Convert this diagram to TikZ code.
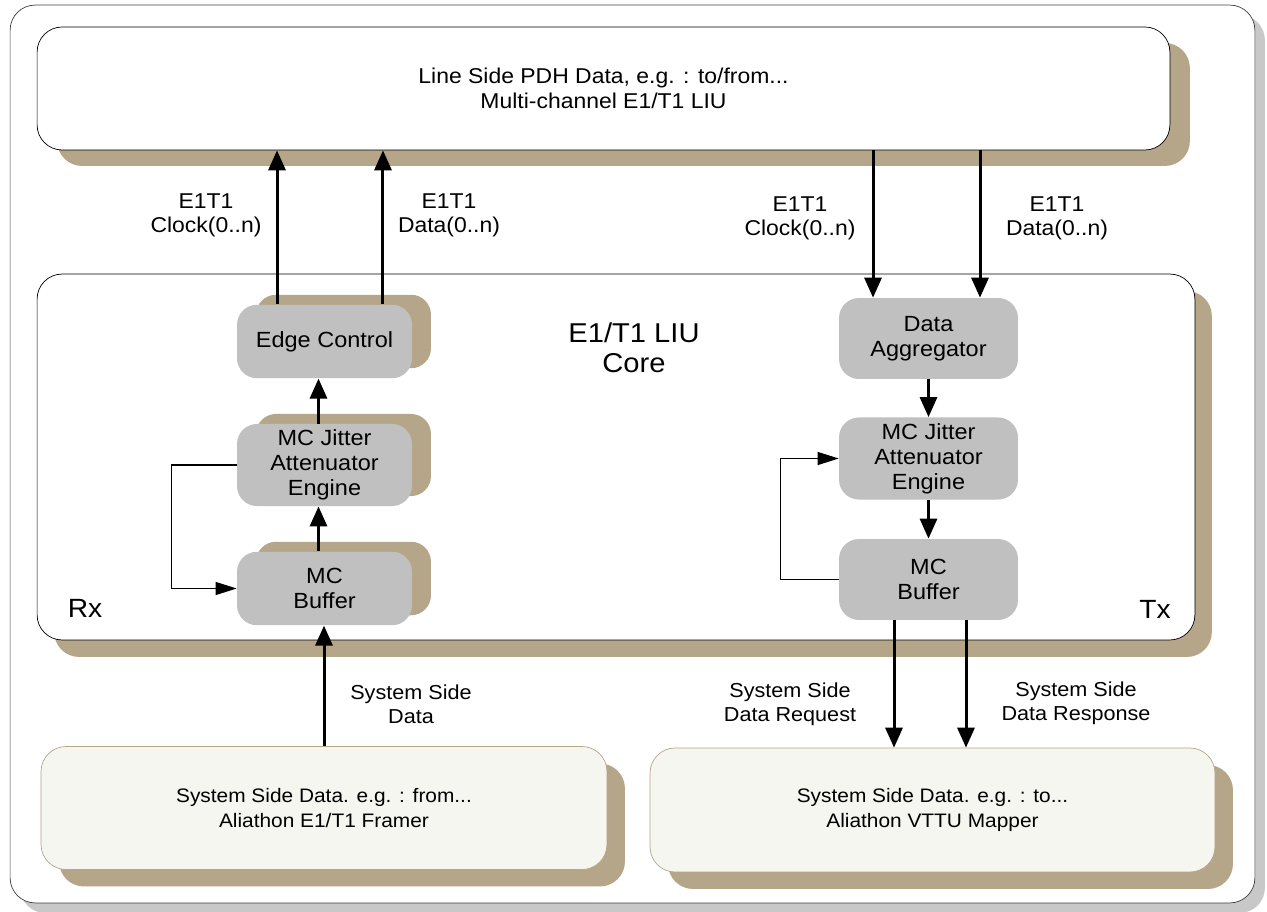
\documentclass[tikz,border=0pt]{standalone}
\usepackage{fontspec}
\setmainfont{Liberation Sans}[FakeStretch=1.07]
\usetikzlibrary{arrows.meta,shadows}

\definecolor{shadowtan}{RGB}{181,166,138}
\definecolor{blockgray}{RGB}{192,192,192}
\definecolor{paper}{RGB}{246,246,240}
\definecolor{framegray}{RGB}{200,200,200}

\tikzset{
	panel/.style = {draw, rounded corners=0.5cm, fill=white, align=center},
	sysbox/.style = {draw=shadowtan, rounded corners=0.5cm, fill=paper, align=center,
		minimum height=2.46cm, font=\fontsize{11.1}{13.8}\selectfont,
		general shadow={fill=shadowtan, draw=none, shadow xshift=0.36cm, shadow yshift=-0.34cm}},
	blk/.style = {rounded corners=0.4cm, fill=blockgray, align=center, font=\fontsize{12.5}{14.2}\selectfont},
	blkL/.style = {blk, minimum width=3.5cm, minimum height=1.47cm,
		general shadow={fill=shadowtan, draw=none, shadow xshift=0.38cm, shadow yshift=0.2cm}},
	blkR/.style = {blk, minimum width=3.58cm, minimum height=1.62cm},
	bigarrow/.style = {line width=0.06cm, -{Triangle[length=0.4cm,width=0.34cm]}},
	loopline/.style = {line width=0.6pt, -{Triangle[length=0.42cm,width=0.26cm]}},
	lbl/.style = {align=center, font=\fontsize{12.2}{13.6}\selectfont},
	syslbl/.style = {align=center, font=\fontsize{11.5}{13.6}\selectfont}
}

\begin{document}
\begin{tikzpicture}[x=0.02cm, y=-0.02cm, font=\fontsize{11}{14}\selectfont]
	\useasboundingbox (0,0) rectangle (1267,912);
	
	% outer frame
	\node[draw=black!75, rounded corners=0.5cm, fill=white, minimum width=24.9cm, minimum height=17.96cm,
		general shadow={fill=framegray, draw=none, shadow xshift=0.2cm, shadow yshift=-0.2cm}] (frame) at (632.5,454) {};
	
	% line side
	\node[panel, minimum width=22.66cm, minimum height=2.46cm, font=\fontsize{12.2}{14.2}\selectfont,
		general shadow={fill=shadowtan, draw=none, shadow xshift=0.4cm, shadow yshift=-0.32cm}] (line) at (603.5,88.5)
		{Line Side PDH Data, e.g. : to/from...\\Multi-channel E1/T1 LIU};
	
	% core
	\node[panel, minimum width=23.16cm, minimum height=7.32cm,
		general shadow={fill=shadowtan, draw=none, shadow xshift=0.34cm, shadow yshift=-0.34cm}] (core) at (616,457) {};
	\node[align=center, font=\fontsize{15.5}{17}\selectfont] (corelbl) at (634,348) {E1/T1 LIU\\Core};
	\node[font=\fontsize{15}{17}\selectfont] (rx) at (85,608) {Rx};
	\node[font=\fontsize{15}{17}\selectfont] (tx) at (1155,609) {Tx};
	
	% Rx chain
	\node[blkL] (edgeL) at (324.5,341.5) {Edge Control};
	\node[blkL] (jitL) at (324.5,465) {MC Jitter\\Attenuator\\Engine};
	\node[blkL] (bufL) at (324.5,588.5) {MC\\Buffer};
	
	% Tx chain
	\node[blkR] (agg) at (928.5,338.5) {Data\\Aggregator};
	\node[blkR] (jitR) at (928.5,458.5) {MC Jitter\\Attenuator\\Engine};
	\node[blkR] (bufR) at (928.5,579.5) {MC\\Buffer};
	
	% system side
	\node[sysbox, minimum width=11.32cm] (framer) at (324,808)
		{System Side Data. e.g. : from...\\Aliathon E1/T1 Framer};
	\node[sysbox, minimum width=11.3cm, minimum height=2.48cm] (mapper) at (932.5,810)
		{System Side Data. e.g. : to...\\Aliathon VTTU Mapper};
	
	% Rx connectors
	\draw[bigarrow] ([xshift=-0.95cm]edgeL.north) -- ([xshift=-0.95cm]edgeL.north |- line.south);
	\draw[bigarrow] ([xshift=1.17cm]edgeL.north) -- ([xshift=1.17cm]edgeL.north |- line.south);
	\draw[bigarrow] ([xshift=-0.12cm]jitL.north) -- ([xshift=-0.12cm]edgeL.south);
	\draw[bigarrow] ([xshift=-0.12cm]bufL.north) -- ([xshift=-0.12cm]jitL.south);
	\draw[bigarrow] (framer.north) -- (framer.north |- bufL.south);
	\draw[loopline] (jitL.west) -- ++(-1.3cm,0) |- (bufL.west);
	
	% Tx connectors
	\draw[bigarrow] ([xshift=-1.11cm]agg.north |- line.south) -- ([xshift=-1.11cm]agg.north);
	\draw[bigarrow] ([xshift=1.03cm]agg.north |- line.south) -- ([xshift=1.03cm]agg.north);
	\draw[bigarrow] (agg.south) -- (jitR.north);
	\draw[bigarrow] (jitR.south) -- (bufR.north);
	\draw[bigarrow] ([xshift=-0.69cm]bufR.south) -- ([xshift=-0.69cm]bufR.south |- mapper.north);
	\draw[bigarrow] ([xshift=0.75cm]bufR.south) -- ([xshift=0.75cm]bufR.south |- mapper.north);
	\draw[loopline] (bufR.west) -- ++(-1.16cm,0) |- (jitR.west);
	
	% labels
	\node[lbl] (clkL) at (206,215) {E1T1\\Clock(0..n)};
	\node[lbl] (datL) at (449,215) {E1T1\\Data(0..n)};
	\node[lbl] (clkR) at (800,218) {E1T1\\Clock(0..n)};
	\node[lbl] (datR) at (1057,218) {E1T1\\Data(0..n)};
	\node[syslbl] (sysdat) at (411,704) {System Side\\Data};
	\node[syslbl] (sysreq) at (790,704) {System Side\\Data Request};
	\node[syslbl] (sysres) at (1076,703) {System Side\\Data Response};
\end{tikzpicture}
\end{document}
